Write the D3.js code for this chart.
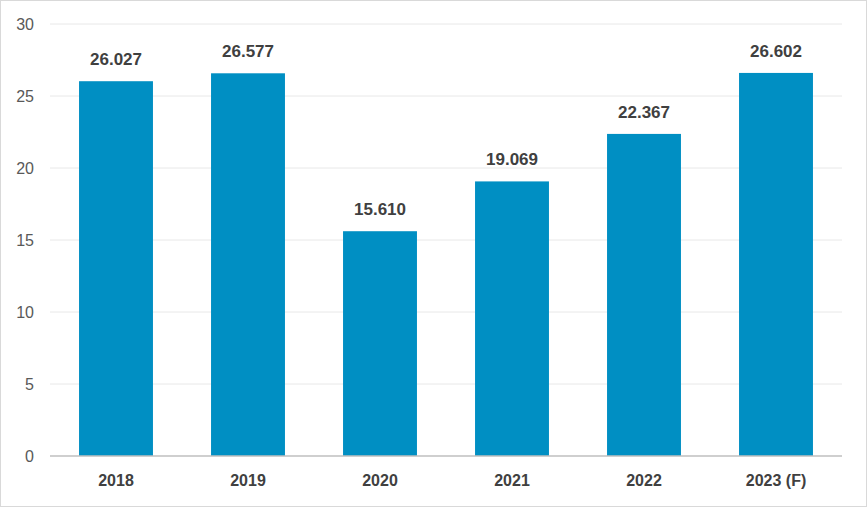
<!DOCTYPE html>
<html><head><meta charset="utf-8">
<script src="https://cdn.jsdelivr.net/npm/d3@7"></script>
<style>body{margin:0;background:#fff}text{font-family:"Liberation Sans",Arial,sans-serif}</style>
</head><body>
<svg id="c" width="867" height="507"></svg>
<script>
const years=['2018','2019','2020','2021','2022','2023 (F)'];
const values=[26.027,26.577,15.610,19.069,22.367,26.602];
const yTicks=[0,5,10,15,20,25,30];

const svg=d3.select('#c');
svg.append('rect').attr('x',0.5).attr('y',0.5).attr('width',866).attr('height',506)
  .attr('fill','#fff').attr('stroke','#d9d9d9');

const m={l:50,r:842,t:24,b:456};
const x=d3.scaleBand().domain(years).range([m.l,m.r]).paddingInner(0.44).paddingOuter(0.22);
const y=d3.scaleLinear().domain([0,30]).range([m.b,m.t]);

// grid
svg.append('g').selectAll('line').data(yTicks.slice(1)).join('line')
  .attr('x1',m.l).attr('x2',m.r).attr('y1',d=>y(d)).attr('y2',d=>y(d))
  .attr('stroke','#e8e8e8');

svg.append('g').selectAll('text').data(yTicks).join('text')
  .attr('x',34).attr('y',d=>y(d)).attr('dy','0.35em').attr('text-anchor','end')
  .attr('font-size',16).attr('fill','#595959').text(d=>d);

svg.append('g').selectAll('rect').data(values).join('rect')
  .attr('x',(d,i)=>x(years[i])).attr('width',x.bandwidth())
  .attr('y',d=>y(d)).attr('height',d=>y(0)-y(d)).attr('fill','#008FC3');

svg.append('g').selectAll('text').data(values).join('text')
  .attr('x',(d,i)=>x(years[i])+x.bandwidth()/2).attr('y',d=>y(d)-16)
  .attr('text-anchor','middle').attr('font-size',17).attr('font-weight','bold')
  .attr('fill','#404040').text(d=>d.toFixed(3));

svg.append('line').attr('x1',m.l).attr('x2',m.r).attr('y1',y(0)).attr('y2',y(0))
  .attr('stroke','#bfbfbf').attr('stroke-width',1.5);

svg.append('g').selectAll('text').data(years).join('text')
  .attr('x',d=>x(d)+x.bandwidth()/2).attr('y',486)
  .attr('text-anchor','middle').attr('font-size',16).attr('font-weight','bold')
  .attr('fill','#404040').text(d=>d);
</script>
</body></html>
